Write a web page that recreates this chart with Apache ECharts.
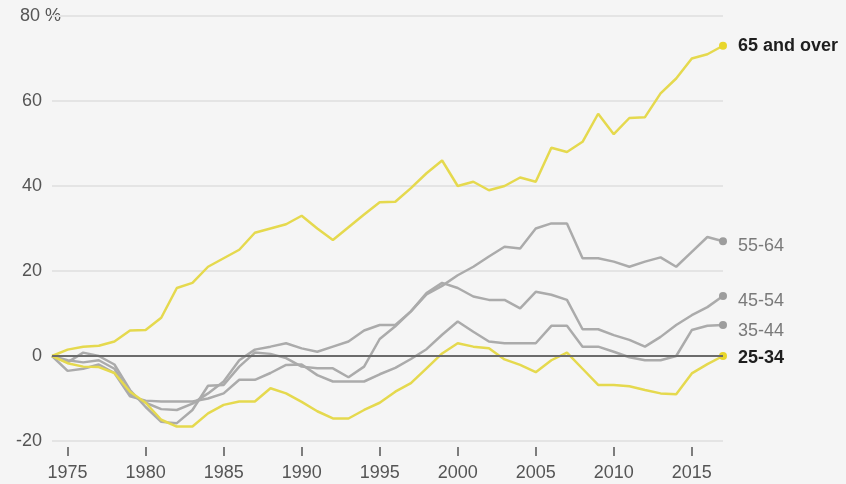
<!DOCTYPE html>
<html>
<head>
<meta charset="utf-8">
<script src="https://cdn.jsdelivr.net/npm/echarts@6/dist/echarts.min.js"></script>
<style>
  html, body { margin: 0; padding: 0; background: #f5f5f5; }
  #chart { width: 846px; height: 484px; }
</style>
</head>
<body>
<div id="chart"></div>
<script>
// years on the x axis
const years = ['1974', '1975', '1976', '1977', '1978', '1979', '1980', '1981', '1982', '1983',
  '1984', '1985', '1986', '1987', '1988', '1989', '1990', '1991', '1992', '1993',
  '1994', '1995', '1996', '1997', '1998', '1999', '2000', '2001', '2002', '2003',
  '2004', '2005', '2006', '2007', '2008', '2009', '2010', '2011', '2012', '2013',
  '2014', '2015', '2016', '2017']

// change since 1974, %
const over65 = [0, 1.5, 2.2, 2.4, 3.4, 6, 6.1, 9, 16, 17.2, 21, 23, 25, 29, 30, 31, 33, 30, 27.3, 30.3,
  33.3, 36.2, 36.3, 39.5, 43, 46, 40, 41, 39, 40, 42, 41, 49, 48, 50.4, 57, 52.2, 56, 56.2, 61.8,
  65.3, 70, 71, 73]
const age5564 = [0, -1.5, 0.8, 0, -2, -8, -12, -15.5, -15.8, -12.7, -7, -6.8, -2.5, 0.8, 0.5, -0.5, -2.5, -2.9, -2.9, -5,
  -2.5, 4, 7, 10.5, 14.5, 16.5, 19, 21, 23.4, 25.7, 25.3, 30, 31.2, 31.2, 23, 23, 22.2, 21, 22.2, 23.2,
  21, 24.5, 28, 27]
const age4554 = [0, -1, -1.5, -1, -3, -9, -11, -12.5, -12.7, -11.2, -8.8, -6, -1, 1.5, 2.2, 3, 1.8, 1, 2.2, 3.4,
  6, 7.3, 7.3, 10.5, 14.8, 17.2, 16, 14, 13.2, 13.2, 11.2, 15.1, 14.4, 13.2, 6.3, 6.3, 4.9, 3.8, 2.2, 4.5,
  7.3, 9.6, 11.5, 14.1]
const age3544 = [0, -3.5, -3, -2, -4, -9.5, -10.5, -10.7, -10.7, -10.7, -10, -8.8, -5.6, -5.6, -4, -2.1, -2, -4.5, -6, -6,
  -6, -4.3, -2.8, -0.7, 1.6, 5, 8.1, 5.7, 3.4, 3, 3, 3, 7.1, 7.1, 2.2, 2.2, 1, -0.3, -1, -1,
  0, 6.1, 7.1, 7.3]
const age2534 = [0, -1.7, -2.5, -2.6, -4, -8.4, -11, -15, -16.6, -16.6, -13.5, -11.5, -10.7, -10.7, -7.6, -8.8, -10.8, -13, -14.7, -14.7,
  -12.7, -11, -8.4, -6.4, -2.9, 0.6, 3, 2.2, 1.8, -0.8, -2.1, -3.8, -1, 0.8, -3, -6.8, -6.8, -7.1, -8, -8.8,
  -9, -4.1, -1.9, 0]

const FONT = 'Liberation Sans'
const YELLOW = '#e5d94e'
const GRAY = '#ababab'
const lastIdx = years.length - 1

function everyFive(index, value) {
  return Number(value) % 5 === 0
}

function makeLine(name, data, color, dotColor, bold, dy, z) {
  return {
    name: name,
    type: 'line',
    data: data,
    z: z,
    showSymbol: true,
    showAllSymbol: true,
    symbol: 'circle',
    symbolSize: function(val, params) {
      return params.dataIndex === lastIdx ? 8 : 0
    },
    itemStyle: { color: dotColor },
    lineStyle: { color: color, width: 2.5 },
    emphasis: { disabled: true },
    endLabel: {
      show: true,
      formatter: '{a}',
      distance: 15,
      offset: [0, dy],
      color: bold ? '#1e1e1e' : '#7a7a7a',
      fontWeight: bold ? 'bold' : 'normal',
      fontSize: 18,
      fontFamily: FONT
    }
  }
}

const chart = echarts.init(document.getElementById('chart'))

const series35 = makeLine('35-44', age3544, GRAY, '#9d9d9d', false, 6, 2)
// dark zero line drawn over the grey lines
series35.markLine = {
  silent: true,
  symbol: 'none',
  label: { show: false },
  lineStyle: { color: '#6b6b6b', width: 2, type: 'solid' },
  data: [{ yAxis: 0 }]
}

chart.setOption({
  backgroundColor: '#f5f5f5',
  animation: false,
  grid: {
    left: 52,
    right: 123,
    top: 16,
    bottom: 43
  },
  xAxis: {
    type: 'category',
    data: years,
    boundaryGap: false,
    offset: 6,
    axisLine: { show: false, onZero: false },
    axisTick: {
      show: true,
      interval: everyFive,
      length: 9,
      lineStyle: { color: '#555', width: 1.5 }
    },
    axisLabel: {
      interval: everyFive,
      margin: 17,
      color: '#555',
      fontSize: 18,
      fontFamily: FONT
    },
    splitLine: { show: false }
  },
  yAxis: {
    type: 'value',
    min: -20,
    max: 80,
    interval: 20,
    axisLine: { show: false },
    axisTick: { show: false },
    axisLabel: {
      margin: 10,
      color: '#555',
      fontSize: 18,
      fontFamily: FONT,
      formatter: function(v) {
        return v === 80 ? '' : String(v)
      }
    },
    splitLine: {
      lineStyle: { color: '#e4e4e4', width: 2 }
    }
  },
  graphic: [{
    type: 'text',
    x: 20,
    y: 16,
    style: {
      text: '80 %',
      fill: '#555',
      font: '18px ' + FONT,
      verticalAlign: 'middle'
    }
  }],
  series: [
    makeLine('55-64', age5564, GRAY, '#9d9d9d', false, 5, 2),
    makeLine('45-54', age4554, GRAY, '#9d9d9d', false, 5, 2),
    series35,
    makeLine('25-34', age2534, YELLOW, '#e8d62c', true, 2, 3),
    makeLine('65 and over', over65, YELLOW, '#e8d62c', true, 0, 3)
  ]
})
</script>
</body>
</html>
